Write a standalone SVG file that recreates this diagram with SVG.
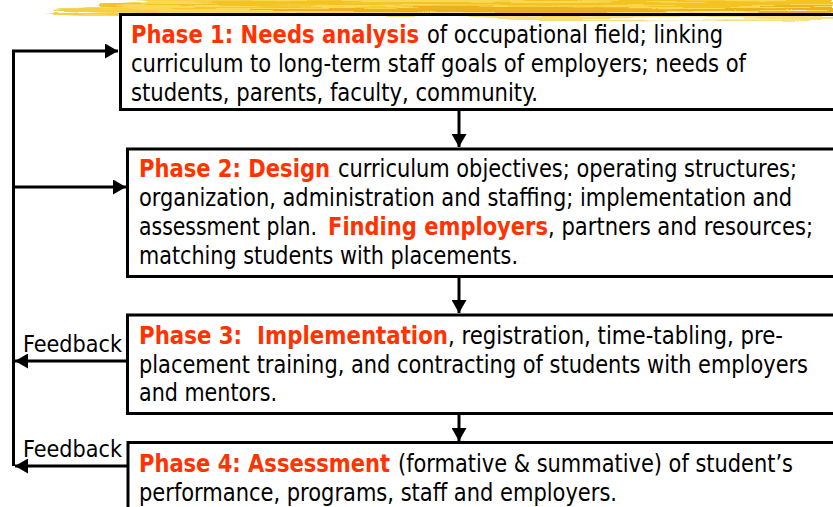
<svg xmlns="http://www.w3.org/2000/svg" width="833" height="507" viewBox="0 0 833 507">
<defs>
  <filter id="rough" x="-5%" y="-50%" width="110%" height="200%">
    <feTurbulence type="fractalNoise" baseFrequency="0.008 0.3" numOctaves="2" seed="7" result="n"/>
    <feDisplacementMap in="SourceGraphic" in2="n" scale="12" xChannelSelector="R" yChannelSelector="G"/>
  </filter>
  <marker id="ah" markerUnits="userSpaceOnUse" markerWidth="14" markerHeight="15" refX="13" refY="7.5" orient="auto">
    <path d="M0,0 L13,7.5 L0,15 Z" fill="#000"/>
  </marker>
  <style>
    .box { fill: none; stroke: #000; stroke-width: 3; }
    .t { font-family: "DejaVu Sans", "Liberation Sans", sans-serif; font-stretch: condensed; font-size: 24px; fill: #000; }
    .b { font-weight: bold; fill: #FF3300; }
    .fb { font-family: "DejaVu Sans", "Liberation Sans", sans-serif; font-stretch: condensed; font-size: 23px; fill: #000; }
    .ln { fill: none; stroke: #000; stroke-width: 3; }
  </style>
</defs>
<rect width="833" height="507" fill="#fff"/>
<g id="brush" filter="url(#rough)">
  <path d="M46,11 C90,5 140,0 220,-2 L833,-2 L833,13 C600,15 300,15 120,15 C90,15 65,13 46,11 Z" fill="#F9D857"/>
  <path d="M100,3 L833,1 L833,5 L100,6 Z" fill="#F2C01A" opacity="0.85"/>
  <path d="M250,8 L833,7 L833,12 L250,12 Z" fill="#E6A308" opacity="0.75"/>
  <path d="M430,15 L833,14 L833,20 L520,19 Z" fill="#F6D24C" opacity="0.7"/>
  <path d="M55,10 L160,9 L160,13 L55,13 Z" fill="#F4CC3E" opacity="0.8"/>
</g>
<g id="connectors">
  <path class="ln" d="M13.5,466 V51 H118" marker-end="url(#ah)"/>
  <path class="ln" d="M13.5,187 H126" marker-end="url(#ah)"/>
  <path class="ln" d="M126,361 H15" marker-end="url(#ah)"/>
  <path class="ln" d="M127,466 H15" marker-end="url(#ah)"/>
  <path class="ln" d="M459,111 V147" marker-end="url(#ah)"/>
  <path class="ln" d="M459,278 V313" marker-end="url(#ah)"/>
  <path class="ln" d="M459,415 V441" marker-end="url(#ah)"/>
  <text class="fb" x="23" y="352" textLength="99" lengthAdjust="spacingAndGlyphs">Feedback</text>
  <text class="fb" x="23" y="457" textLength="99" lengthAdjust="spacingAndGlyphs">Feedback</text>
</g>
<g id="phase1">
  <rect class="box" x="120.5" y="14.5" width="730" height="95"/>
  <text class="t">
    <tspan class="b" x="131" y="43" textLength="288" lengthAdjust="spacingAndGlyphs">Phase 1: Needs analysis</tspan>
    <tspan x="427" y="43" textLength="296" lengthAdjust="spacingAndGlyphs">of occupational field; linking</tspan>
    <tspan x="131" y="72" textLength="615" lengthAdjust="spacingAndGlyphs">curriculum to long-term staff goals of employers; needs of</tspan>
    <tspan x="131" y="101" textLength="407" lengthAdjust="spacingAndGlyphs">students, parents, faculty, community.</tspan>
  </text>
</g>
<g id="phase2">
  <rect class="box" x="127.5" y="149" width="730" height="127.5"/>
  <text class="t">
    <tspan class="b" x="139" y="177" textLength="191" lengthAdjust="spacingAndGlyphs">Phase 2: Design</tspan>
    <tspan x="338" y="177" textLength="459" lengthAdjust="spacingAndGlyphs">curriculum objectives; operating structures;</tspan>
    <tspan x="139" y="206" textLength="653" lengthAdjust="spacingAndGlyphs">organization, administration and staffing; implementation and</tspan>
    <tspan x="139" y="235" textLength="178" lengthAdjust="spacingAndGlyphs">assessment plan.</tspan>
    <tspan class="b" x="328" y="235" textLength="220" lengthAdjust="spacingAndGlyphs">Finding employers</tspan>
    <tspan x="548" y="235" textLength="265" lengthAdjust="spacingAndGlyphs">, partners and resources;</tspan>
    <tspan x="139" y="264" textLength="379" lengthAdjust="spacingAndGlyphs">matching students with placements.</tspan>
  </text>
</g>
<g id="phase3">
  <rect class="box" x="127.5" y="315" width="730" height="98.5"/>
  <text class="t">
    <tspan class="b" x="139" y="344" textLength="309" lengthAdjust="spacingAndGlyphs" xml:space="preserve">Phase 3:  Implementation</tspan>
    <tspan x="448" y="344" textLength="335" lengthAdjust="spacingAndGlyphs">, registration, time-tabling, pre-</tspan>
    <tspan x="139" y="373" textLength="669" lengthAdjust="spacingAndGlyphs">placement training, and contracting of students with employers</tspan>
    <tspan x="139" y="401" textLength="138" lengthAdjust="spacingAndGlyphs">and mentors.</tspan>
  </text>
</g>
<g id="phase4">
  <rect class="box" x="128" y="442.5" width="730" height="100"/>
  <text class="t">
    <tspan class="b" x="139" y="472" textLength="251" lengthAdjust="spacingAndGlyphs">Phase 4: Assessment</tspan>
    <tspan x="398" y="472" textLength="395" lengthAdjust="spacingAndGlyphs">(formative &amp; summative) of student’s</tspan>
    <tspan x="139" y="501" textLength="478" lengthAdjust="spacingAndGlyphs">performance, programs, staff and employers.</tspan>
  </text>
</g>
</svg>
